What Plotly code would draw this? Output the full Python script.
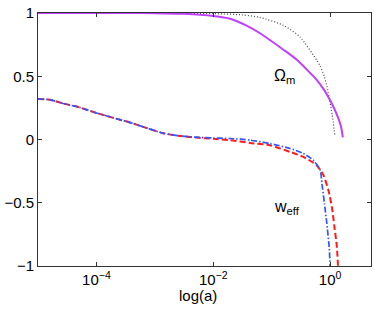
import plotly.graph_objects as go

# log10(a) sample positions and values
om_loga = [-5.0, -3.5, -3.0, -2.5, -2.0, -1.71, -1.43, -1.2, -0.8, -0.57, -0.227, -0.1, 0.0, 0.07, 0.143, 0.19, 0.218]
om_vals = [1.0, 1.0, 0.999, 0.994, 0.977, 0.955, 0.9, 0.84, 0.71, 0.63, 0.47, 0.39, 0.31, 0.245, 0.165, 0.095, 0.016]

lcdm_loga = [-5.0, -3.0, -2.0, -1.5, -1.2, -0.8, -0.514, -0.227, -0.17, -0.1, -0.04, 0.035, 0.08]
lcdm_vals = [1.0, 1.0, 0.995, 0.985, 0.965, 0.903, 0.81, 0.626, 0.58, 0.5, 0.39, 0.2, 0.034]

wb_loga = [-5.0, -4.8, -4.57, -4.3, -4.0, -3.7, -3.43, -3.2, -2.86, -2.6, -2.29, -2.0, -1.71, -1.37, -1.03,
           -0.685, -0.46, -0.29, -0.17, -0.14, -0.097, -0.056, -0.016, 0.0]
wb_vals = [0.32, 0.315, 0.285, 0.255, 0.21, 0.17, 0.135, 0.1, 0.05, 0.03, 0.018, 0.012, 0.008, -0.005, -0.032,
           -0.071, -0.11, -0.163, -0.242, -0.348, -0.505, -0.664, -0.85, -1.0]

wr_loga = [-5.0, -4.8, -4.57, -4.3, -4.0, -3.7, -3.43, -3.2, -2.86, -2.6, -2.29, -2.0, -1.71, -1.37, -1.03,
           -0.685, -0.46, -0.23, -0.114, -0.03, 0.03, 0.074, 0.116, 0.135]
wr_vals = [0.32, 0.315, 0.285, 0.255, 0.21, 0.17, 0.135, 0.1, 0.05, 0.03, 0.015, 0.005, -0.005, -0.027, -0.045,
           -0.098, -0.137, -0.203, -0.282, -0.4, -0.532, -0.69, -0.85, -1.0]

xtick_vals = [1e-4, 1e-2, 1]
xtick_text = ["10<sup>−4</sup>", "10<sup>−2</sup>", "10<sup>0</sup>"]
ytick_vals = [-1, -0.5, 0, 0.5, 1]
ytick_text = ["−1", "−0.5", "0", "0.5", "1"]


def to_a(logs):
    return [10 ** v for v in logs]


fig = go.Figure()
fig.add_trace(go.Scatter(x=to_a(lcdm_loga), y=lcdm_vals, mode="lines",
                         line=dict(color="#444444", width=1.2, dash="1px,2px", shape="spline", smoothing=0.6)))
fig.add_trace(go.Scatter(x=to_a(om_loga), y=om_vals, mode="lines",
                         line=dict(color="#bf40ff", width=2, shape="spline", smoothing=0.6)))
fig.add_trace(go.Scatter(x=to_a(wr_loga), y=wr_vals, mode="lines",
                         line=dict(color="#ff1a1a", width=2, dash="6px,3px", shape="spline", smoothing=0.6)))
fig.add_trace(go.Scatter(x=to_a(wb_loga), y=wb_vals, mode="lines",
                         line=dict(color="#3355ff", width=1.7, dash="6px,2px,1.5px,2px", shape="spline", smoothing=0.6)))

fig.add_annotation(x=-0.99, y=0.5, xref="x", yref="y", text="Ω<sub>m</sub>", showarrow=False,
                   xanchor="left", yanchor="middle", font=dict(size=16, color="black"))
fig.add_annotation(x=-0.99, y=-0.54, xref="x", yref="y", text="w<sub>eff</sub>", showarrow=False,
                   xanchor="left", yanchor="middle", font=dict(size=16, color="black"))
fig.add_annotation(x=(198 - 38.3) / 332.4, y=-0.118, xref="paper", yref="paper", text="log(a)", showarrow=False,
                   xanchor="center", yanchor="middle", font=dict(size=15, color="black"))

axis_common = dict(showgrid=False, zeroline=False, showline=True, linecolor="#333333", linewidth=1,
                   mirror="ticks", ticks="inside", ticklen=4, tickcolor="#333333", automargin=False,
                   tickfont=dict(size=15, color="black"))

fig.update_xaxes(type="log", range=[-5, 0.7], tickvals=xtick_vals, ticktext=xtick_text, **axis_common)
fig.update_yaxes(range=[-1, 1], tickvals=ytick_vals, ticktext=ytick_text, **axis_common)

fig.update_layout(width=374, height=312, margin=dict(l=38, r=3, t=13, b=46, autoexpand=False),
                  paper_bgcolor="white", plot_bgcolor="white", showlegend=False, hovermode=False,
                  font=dict(family="Liberation Sans, Arial, sans-serif", color="black"))

# remove the default page margin so the figure sits at the window's top-left corner
fig.write_html("out.html", config={"displayModeBar": False, "staticPlot": True},
               post_script="document.body.style.margin='0';")
